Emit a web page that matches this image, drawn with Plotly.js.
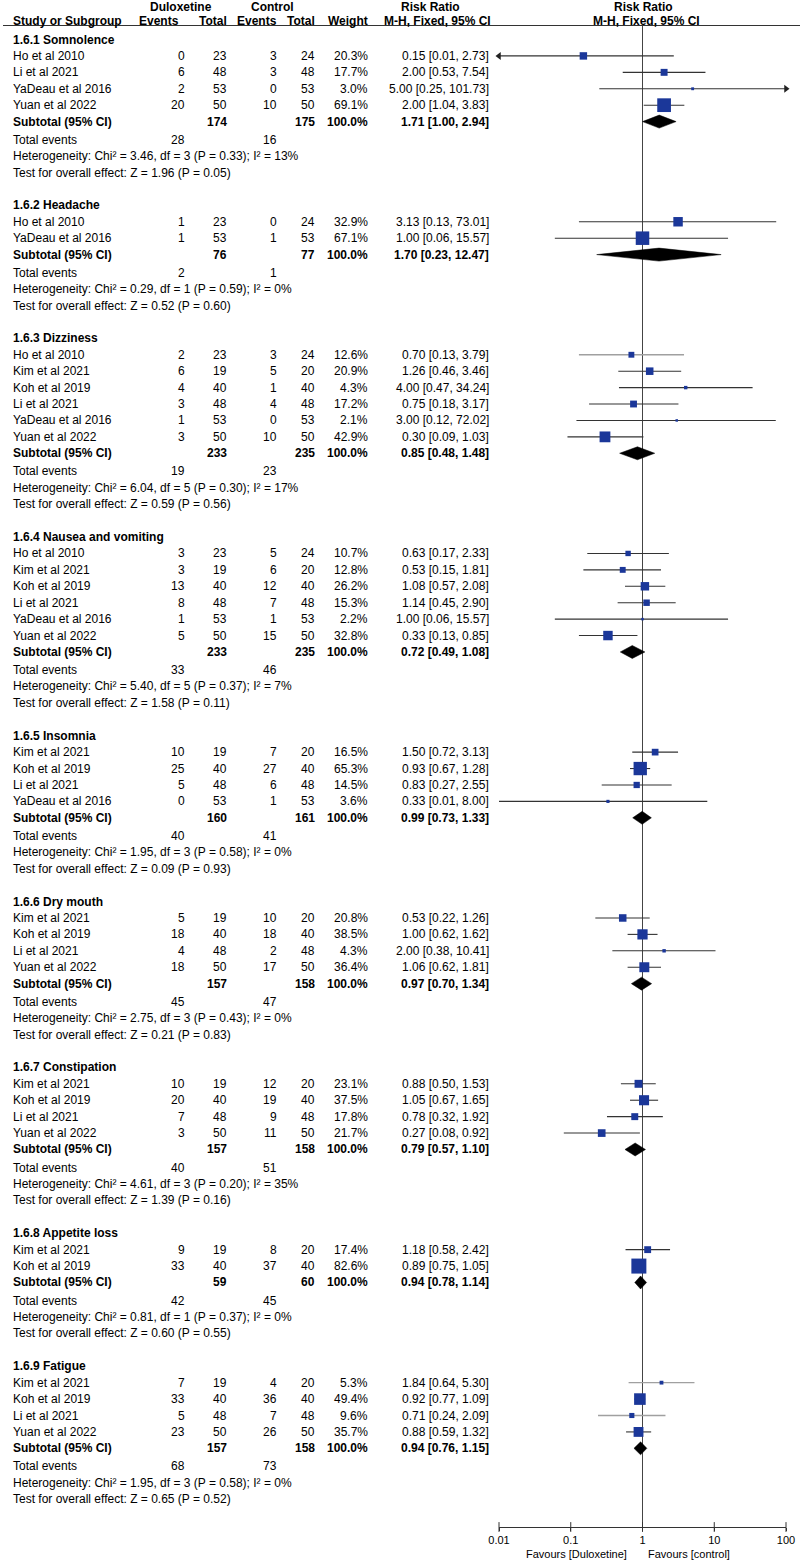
<!DOCTYPE html>
<html><head><meta charset="utf-8">
<script src="https://cdn.plot.ly/plotly-3.0.1.min.js"></script>
<style>html,body{margin:0;padding:0;background:#fff}#chart{width:800px;height:1564px}</style>
</head><body><div id="chart"></div>
<script>
// ---------------- DATA ----------------
const groupNames = ['1.6.1 Somnolence','1.6.2 Headache','1.6.3 Dizziness','1.6.4 Nausea and vomiting','1.6.5 Insomnia','1.6.6 Dry mouth','1.6.7 Constipation','1.6.8 Appetite loss','1.6.9 Fatigue'];

const studyGroup = [0,0,0,0, 1,1, 2,2,2,2,2,2, 3,3,3,3,3,3, 4,4,4,4, 5,5,5,5, 6,6,6,6, 7,7, 8,8,8,8];
const studyNames = [
 'Ho et al 2010','Li et al 2021','YaDeau et al 2016','Yuan et al 2022',
 'Ho et al 2010','YaDeau et al 2016',
 'Ho et al 2010','Kim et al 2021','Koh et al 2019','Li et al 2021','YaDeau et al 2016','Yuan et al 2022',
 'Ho et al 2010','Kim et al 2021','Koh et al 2019','Li et al 2021','YaDeau et al 2016','Yuan et al 2022',
 'Kim et al 2021','Koh et al 2019','Li et al 2021','YaDeau et al 2016',
 'Kim et al 2021','Koh et al 2019','Li et al 2021','Yuan et al 2022',
 'Kim et al 2021','Koh et al 2019','Li et al 2021','Yuan et al 2022',
 'Kim et al 2021','Koh et al 2019',
 'Kim et al 2021','Koh et al 2019','Li et al 2021','Yuan et al 2022'];
const duloxEvents = [0,6,2,20, 1,1, 2,6,4,3,1,3, 3,3,13,8,1,5, 10,25,5,0, 5,18,4,18, 10,20,7,3, 9,33, 7,33,5,23];
const duloxTotal  = [23,48,53,50, 23,53, 23,19,40,48,53,50, 23,19,40,48,53,50, 19,40,48,53, 19,40,48,50, 19,40,48,50, 19,40, 19,40,48,50];
const ctrlEvents  = [3,3,0,10, 0,1, 3,5,1,4,0,10, 5,6,12,7,1,15, 7,27,6,1, 10,18,2,17, 12,19,9,11, 8,37, 4,36,7,26];
const ctrlTotal   = [24,48,53,50, 24,53, 24,20,40,48,53,50, 24,20,40,48,53,50, 20,40,48,53, 20,40,48,50, 20,40,48,50, 20,40, 20,40,48,50];
const weightPct   = [20.3,17.7,3.0,69.1, 32.9,67.1, 12.6,20.9,4.3,17.2,2.1,42.9, 10.7,12.8,26.2,15.3,2.2,32.8, 16.5,65.3,14.5,3.6, 20.8,38.5,4.3,36.4, 23.1,37.5,17.8,21.7, 17.4,82.6, 5.3,49.4,9.6,35.7];
const riskRatio   = [0.15,2.00,5.00,2.00, 3.13,1.00, 0.70,1.26,4.00,0.75,3.00,0.30, 0.63,0.53,1.08,1.14,1.00,0.33, 1.50,0.93,0.83,0.33, 0.53,1.00,2.00,1.06, 0.88,1.05,0.78,0.27, 1.18,0.89, 1.84,0.92,0.71,0.88];
const ciLower     = [0.01,0.53,0.25,1.04, 0.13,0.06, 0.13,0.46,0.47,0.18,0.12,0.09, 0.17,0.15,0.57,0.45,0.06,0.13, 0.72,0.67,0.27,0.01, 0.22,0.62,0.38,0.62, 0.50,0.67,0.32,0.08, 0.58,0.75, 0.64,0.77,0.24,0.59];
const ciUpper     = [2.73,7.54,101.73,3.83, 73.01,15.57, 3.79,3.46,34.24,3.17,72.02,1.03, 2.33,1.81,2.08,2.90,15.57,0.85, 3.13,1.28,2.55,8.00, 1.26,1.62,10.41,1.81, 1.53,1.65,1.92,0.92, 2.42,1.05, 5.30,1.09,2.09,1.32];
// study whose lower limit runs off the left end of the axis (drawn with an arrow)
const lowerOffScale = [0];

const subDuloxTotal = [174,76,233,233,160,157,157,59,157];
const subCtrlTotal  = [175,77,235,235,161,158,158,60,158];
const subRR         = [1.71,1.70,0.85,0.72,0.99,0.97,0.79,0.94,0.94];
const subLower      = [1.00,0.23,0.48,0.49,0.73,0.70,0.57,0.78,0.76];
const subUpper      = [2.94,12.47,1.48,1.08,1.33,1.34,1.10,1.14,1.15];
const totalEventsDulox = [28,2,19,33,40,45,40,42,68];
const totalEventsCtrl  = [16,1,23,46,41,47,51,45,73];
const heterogeneity = [
 'Chi² = 3.46, df = 3 (P = 0.33); I² = 13%',
 'Chi² = 0.29, df = 1 (P = 0.59); I² = 0%',
 'Chi² = 6.04, df = 5 (P = 0.30); I² = 17%',
 'Chi² = 5.40, df = 5 (P = 0.37); I² = 7%',
 'Chi² = 1.95, df = 3 (P = 0.58); I² = 0%',
 'Chi² = 2.75, df = 3 (P = 0.43); I² = 0%',
 'Chi² = 4.61, df = 3 (P = 0.20); I² = 35%',
 'Chi² = 0.81, df = 1 (P = 0.37); I² = 0%',
 'Chi² = 1.95, df = 3 (P = 0.58); I² = 0%'];
const overallEffect = [
 'Z = 1.96 (P = 0.05)','Z = 0.52 (P = 0.60)','Z = 0.59 (P = 0.56)','Z = 1.58 (P = 0.11)','Z = 0.09 (P = 0.93)',
 'Z = 0.21 (P = 0.83)','Z = 1.39 (P = 0.16)','Z = 0.60 (P = 0.55)','Z = 0.65 (P = 0.52)'];

const tickValues = [0.01, 0.1, 1, 10, 100];
const tickLabels = ['0.01','0.1','1','10','100'];
const favoursLeft = 'Favours [Duloxetine]';
const favoursRight = 'Favours [control]';

// ---------------- STYLE / LAYOUT ----------------
const W = 800, H = 1564;
const FONT = 'Liberation Sans, Arial, Helvetica, sans-serif';
const TXT = '#000';
const BLUE = '#1b3799';
const greyCiStudies = [6, 32, 34];
const COL = {name:13, evD:185, totD:227, evC:277, totC:315, wt:368, ci:489};
const PLOT_L = 499, PLOT_R = 786, AXIS_Y = 1527, HEADER_LINE_Y = 25.5;
const PITCH = 16.42, FIRST_ROW = 39.5;

const f2 = v => v.toFixed(2);
const ciText = (r, l, u) => `${f2(r)} [${f2(l)}, ${f2(u)}]`;

const annotations = [];
function txt(x, y, text, align, bold, size, color) {
  annotations.push({xref:'paper', yref:'y', x: x / W, y: y, text: bold ? '<b>' + text + '</b>' : text,
    showarrow:false, xanchor: align, yanchor:'middle', borderpad:0, borderwidth:0,
    font:{family:FONT, size: size || 12, color: color || TXT}});
}

// headers
txt(181, 7, 'Duloxetine', 'center', true);
txt(272, 7, 'Control', 'center', true);
txt(430, 7, 'Risk Ratio', 'center', true);
txt(643, 7, 'Risk Ratio', 'center', true);
txt(COL.name, 21, 'Study or Subgroup', 'left', true);
txt(179, 21, 'Events', 'right', true);
txt(COL.totD, 21, 'Total', 'right', true);
txt(COL.evC, 21, 'Events', 'right', true);
txt(COL.totC, 21, 'Total', 'right', true);
txt(COL.wt, 21, 'Weight', 'right', true);
txt(437, 21, 'M-H, Fixed, 95% CI', 'center', true);
txt(646, 21, 'M-H, Fixed, 95% CI', 'center', true);

// row positions
const studyY = [], subY = [];
let y = FIRST_ROW;
groupNames.forEach((g, gi) => {
  txt(COL.name, y, g, 'left', true);
  y += PITCH;
  studyGroup.forEach((sg, i) => {
    if (sg !== gi) return;
    studyY[i] = y;
    txt(COL.name, y, studyNames[i], 'left');
    txt(COL.evD, y, String(duloxEvents[i]), 'right');
    txt(COL.totD, y, String(duloxTotal[i]), 'right');
    txt(COL.evC, y, String(ctrlEvents[i]), 'right');
    txt(COL.totC, y, String(ctrlTotal[i]), 'right');
    txt(COL.wt, y, weightPct[i].toFixed(1) + '%', 'right');
    txt(COL.ci, y, ciText(riskRatio[i], ciLower[i], ciUpper[i]), 'right');
    y += PITCH;
  });
  subY[gi] = y;
  txt(COL.name, y, 'Subtotal (95% CI)', 'left', true);
  txt(COL.totD, y, String(subDuloxTotal[gi]), 'right', true);
  txt(COL.totC, y, String(subCtrlTotal[gi]), 'right', true);
  txt(COL.wt, y, '100.0%', 'right', true);
  txt(COL.ci, y, ciText(subRR[gi], subLower[gi], subUpper[gi]), 'right', true);
  y += PITCH * 1.1;
  txt(COL.name, y, 'Total events', 'left');
  txt(COL.evD, y, String(totalEventsDulox[gi]), 'right');
  txt(COL.evC, y, String(totalEventsCtrl[gi]), 'right');
  y += PITCH;
  txt(COL.name, y, 'Heterogeneity: ' + heterogeneity[gi], 'left');
  y += PITCH;
  txt(COL.name, y, 'Test for overall effect: ' + overallEffect[gi], 'left');
  y += PITCH * 2;
});

// favours labels
txt(627, 1554, favoursLeft, 'right', false, 11);
txt(648, 1554, favoursRight, 'left', false, 11);

// ---------------- TRACES ----------------
const xMin = tickValues[0], xMax = tickValues[tickValues.length - 1];
const darkX = [], darkY = [], greyX = [], greyY = [];
studyY.forEach((yy, i) => {
  const lo = Math.max(ciLower[i], xMin), hi = Math.min(ciUpper[i], xMax);
  const grey = greyCiStudies.includes(i);
  (grey ? greyX : darkX).push(lo, hi, null);
  (grey ? greyY : darkY).push(yy, yy, null);
});
const arrowLX = [], arrowLY = [], arrowRX = [], arrowRY = [];
studyY.forEach((yy, i) => {
  if (lowerOffScale.includes(i)) { arrowLX.push(xMin); arrowLY.push(yy); }
  if (ciUpper[i] > xMax) { arrowRX.push(xMax); arrowRY.push(yy); }
});
const diaX = [], diaY = [], HALF = 6.5;
subY.forEach((yy, gi) => {
  diaX.push(subLower[gi], subRR[gi], subUpper[gi], subRR[gi], subLower[gi], null);
  diaY.push(yy, yy - HALF, yy, yy + HALF, yy, null);
});

const traces = [
  {x:[1, 1], y:[HEADER_LINE_Y, AXIS_Y], mode:'lines', line:{color:'#444', width:1}, cliponaxis:false},
  {x:darkX, y:darkY, mode:'lines', line:{color:'#333', width:1.1}, cliponaxis:false},
  {x:greyX, y:greyY, mode:'lines', line:{color:'#a0a0a0', width:1.4}, cliponaxis:false},
  {x:studyY.map((_, i) => riskRatio[i]), y:studyY, mode:'markers', cliponaxis:false,
   marker:{symbol:'square', color:BLUE, opacity:1, size:weightPct.map(w => Math.max(2.5, 1.65 * Math.sqrt(w))), line:{width:0}}},
  {x:diaX, y:diaY, mode:'lines', fill:'toself', fillcolor:'#000', line:{color:'#000', width:0.5}, cliponaxis:false},
  {x:arrowLX, y:arrowLY, mode:'markers', marker:{symbol:'triangle-left', color:'#222', size:7, opacity:1}, cliponaxis:false},
  {x:arrowRX, y:arrowRY, mode:'markers', marker:{symbol:'triangle-right', color:'#222', size:7, opacity:1}, cliponaxis:false},
  // tick marks crossing the axis line
  {x:tickValues, y:tickValues.map(() => AXIS_Y), mode:'markers', cliponaxis:false,
   marker:{symbol:'line-ns', size:7, line:{color:'#333', width:1}}}
];

const layout = {
  width: W, height: H,
  margin:{l:0, r:0, t:0, b:0, pad:0},
  paper_bgcolor:'#fff', plot_bgcolor:'rgba(0,0,0,0)',
  showlegend:false,
  xaxis:{type:'log', range:[Math.log10(xMin), Math.log10(xMax)], domain:[PLOT_L / W, PLOT_R / W],
    anchor:'free', position:(H - AXIS_Y) / H, showline:true, linecolor:'#333', linewidth:1,
    ticks:'outside', ticklen:3, tickwidth:1, tickcolor:'#333',
    tickvals:tickValues, ticktext:tickLabels, showgrid:false, zeroline:false,
    tickfont:{family:FONT, size:11, color:TXT}},
  yaxis:{range:[H, 0], domain:[0, 1], visible:false, showgrid:false, zeroline:false},
  shapes:[{type:'line', xref:'paper', yref:'y', x0:3 / W, x1:1, y0:HEADER_LINE_Y, y1:HEADER_LINE_Y,
    line:{color:'#333', width:1}}],
  annotations: annotations
};

Plotly.newPlot('chart', traces, layout, {staticPlot:true, displayModeBar:false});
</script></body></html>
